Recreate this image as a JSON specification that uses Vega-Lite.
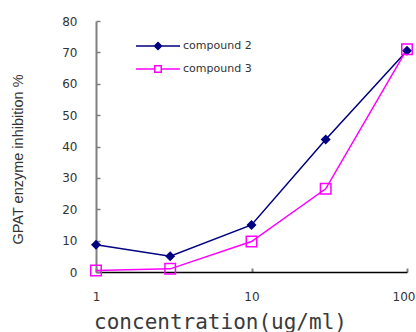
{
  "$schema": "https://vega.github.io/schema/vega-lite/v6.json",
  "autosize": "none",
  "width": 311,
  "height": 251,
  "padding": {"left": 96, "top": 21, "right": 9, "bottom": 60},
  "background": "white",
  "data": {
    "values": [
      {"conc": 1, "inhibition": 8.7, "series": "compound 2"},
      {"conc": 3, "inhibition": 5.0, "series": "compound 2"},
      {"conc": 10, "inhibition": 15.0, "series": "compound 2"},
      {"conc": 30, "inhibition": 42.2, "series": "compound 2"},
      {"conc": 100, "inhibition": 70.5, "series": "compound 2"},
      {"conc": 1, "inhibition": 0.5, "series": "compound 3"},
      {"conc": 3, "inhibition": 1.0, "series": "compound 3"},
      {"conc": 10, "inhibition": 9.7, "series": "compound 3"},
      {"conc": 30, "inhibition": 26.5, "series": "compound 3"},
      {"conc": 100, "inhibition": 71.0, "series": "compound 3"}
    ]
  },
  "config": {
    "view": {"stroke": null},
    "font": "DejaVu Sans"
  },
  "encoding": {
    "x": {
      "field": "conc",
      "type": "quantitative",
      "scale": {"type": "log", "domain": [1, 100]},
      "axis": {
        "values": [1, 10, 100],
        "grid": false,
        "domainColor": "#000000",
        "domainWidth": 1.5,
        "tickColor": "#808080",
        "tickWidth": 2,
        "tickSize": -4,
        "labelPadding": 23,
        "labelFontSize": 12,
        "labelColor": "#333333",
        "labelFlush": false,
        "labelAlign": {"condition": {"test": "datum.value === 100", "value": "right"}, "value": "center"},
        "labelOffset": {"condition": {"test": "datum.value === 100", "value": 8}, "value": 0},
        "labelFont": "DejaVu Sans",
        "title": "concentration(ug/ml)",
        "titleFont": "DejaVu Sans Mono",
        "titleFontSize": 21,
        "titleFontWeight": "normal",
        "titleColor": "#3a3a3a",
        "titleAlign": "center",
        "titleX": 124,
        "titlePadding": 9
      }
    },
    "y": {
      "field": "inhibition",
      "type": "quantitative",
      "scale": {"domain": [0, 80], "nice": false, "zero": true},
      "axis": {
        "values": [0, 10, 20, 30, 40, 50, 60, 70, 80],
        "grid": false,
        "domainColor": "#808080",
        "domainWidth": 2,
        "tickColor": "#808080",
        "tickWidth": 1.5,
        "tickSize": -4,
        "labelPadding": 23,
        "labelFontSize": 12,
        "labelColor": "#333333",
        "labelFont": "DejaVu Sans",
        "title": "GPAT enzyme inhibition %",
        "titleFont": "Liberation Sans",
        "titleFontSize": 14.5,
        "titleFontWeight": "normal",
        "titleColor": "#333333",
        "titleAngle": -90,
        "titleAlign": "center",
        "titleBaseline": "middle",
        "titleX": -78,
        "titleY": 138
      }
    },
    "color": {
      "field": "series",
      "type": "nominal",
      "scale": {"domain": ["compound 2", "compound 3"], "range": ["#000080", "#FF00FF"]},
      "legend": {
        "title": null,
        "orient": "none",
        "legendX": 56,
        "legendY": 19,
        "padding": 0,
        "labelFontSize": 11,
        "labelColor": "#333333",
        "labelFont": "DejaVu Sans",
        "labelOffset": 19,
        "symbolSize": 100,
        "symbolStrokeWidth": 1.5,
        "rowPadding": 9,
        "encode": {
          "symbols": {
            "update": {
              "shape": {"signal": "datum.value === 'compound 2' ? 'M-4.4,0L4.4,0M0,-0.7L0.7,0L0,0.7L-0.7,0Z' : 'M-4.4,0L-0.65,0M0.65,0L4.4,0M-0.65,-0.65L0.65,-0.65L0.65,0.65L-0.65,0.65Z'"},
              "fill": {"signal": "datum.value === 'compound 2' ? '#000080' : '#ffffff'"},
              "fillOpacity": {"signal": "datum.value === 'compound 2' ? 1 : 0"},
              "stroke": {"signal": "datum.value === 'compound 2' ? '#000080' : '#FF00FF'"},
              "strokeWidth": {"value": 1.5},
              "opacity": {"value": 1}
            }
          }
        }
      }
    }
  },
  "layer": [
    {
      "mark": {"type": "line", "strokeWidth": 1.5}
    },
    {
      "transform": [{"filter": "datum.series === 'compound 2'"}],
      "mark": {"type": "point", "shape": "diamond", "filled": true, "size": 100, "opacity": 1}
    },
    {
      "transform": [{"filter": "datum.series === 'compound 3'"}],
      "mark": {"type": "point", "shape": "square", "filled": false, "size": 110, "strokeWidth": 1.5, "opacity": 1}
    }
  ]
}
